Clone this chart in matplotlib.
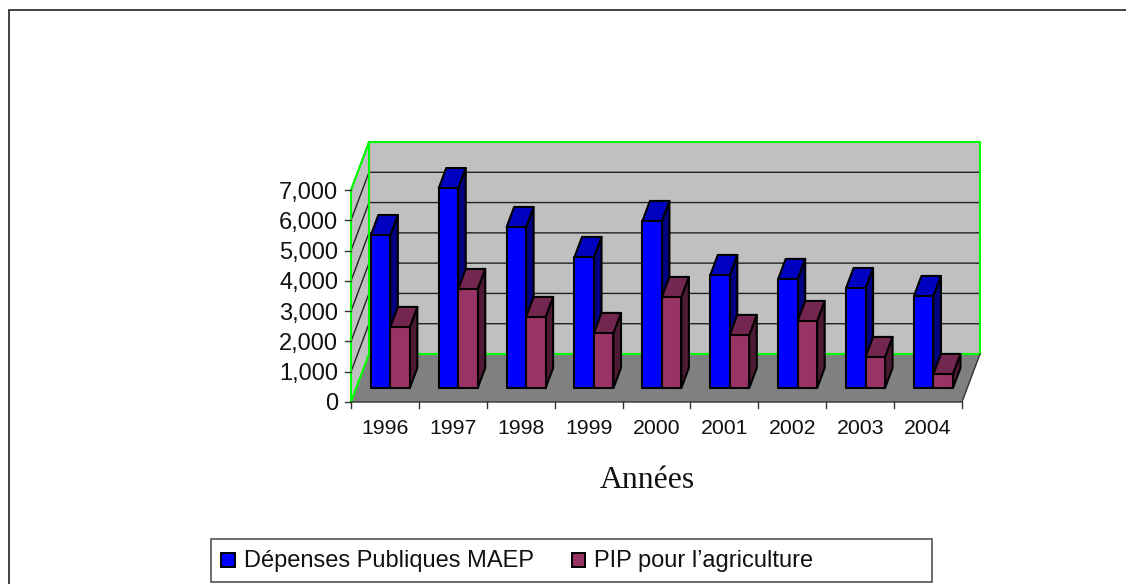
import matplotlib
matplotlib.use('Agg')
import matplotlib.pyplot as plt
from matplotlib.patches import Polygon, Rectangle

years = ['1996', '1997', '1998', '1999', '2000', '2001', '2002', '2003', '2004']
depenses = [5050, 6600, 5315, 4325, 5513, 3730, 3600, 3300, 3037]
pip_agri = [2014, 3268, 2344, 1816, 3004, 1750, 2212, 1023, 462]
y_ticks = [0, 1000, 2000, 3000, 4000, 5000, 6000, 7000]

W, H = 1126, 584
plt.rcParams['font.family'] = ['Liberation Sans', 'DejaVu Sans']

fig = plt.figure(figsize=(W / 100, H / 100), dpi=100)
# axes box = front plane of the 3D chart, in pixels
ax = fig.add_axes([351 / W, 1 - 402 / H, 611 / W, 212 / H])
ax.set_xlim(0, len(years))
ax.set_ylim(0, 7000)
ax.axis('off')

# shear for the fake 3D depth, depth goes 0 (front) to 1 (back)
DX = 18 / (611 / len(years))
DY = 48 / (212 / 7000)


def pt(x, y, d):
    return (x + DX * d, y + DY * d)


def poly(points, **kw):
    kw.setdefault('clip_on', False)
    ax.add_patch(Polygon(points, closed=True, **kw))


n = len(years)
top = 7000
green = '#00ff00'

# walls and floor
poly([pt(0, 0, 1), pt(n, 0, 1), pt(n, top, 1), pt(0, top, 1)], fc='#c0c0c0', ec='none', zorder=1)
poly([pt(0, 0, 0), pt(0, 0, 1), pt(0, top, 1), pt(0, top, 0)], fc='#c0c0c0', ec='none', zorder=1)
poly([pt(0, 0, 0), pt(n, 0, 0), pt(n, 0, 1), pt(0, 0, 1)], fc='#808080', ec='none', zorder=1)

for v in y_ticks[1:]:
    xs, ys = zip(pt(0, v, 0), pt(0, v, 1), pt(n, v, 1))
    ax.plot(xs, ys, color='#222222', lw=1.0, clip_on=False, zorder=2)

# green outline of the walls
xs, ys = zip(pt(0, 0, 0), pt(0, top, 0), pt(0, top, 1), pt(n, top, 1), pt(n, 0, 1), pt(0, 0, 1), pt(0, 0, 0))
ax.plot(xs, ys, color=green, lw=1.5, clip_on=False, zorder=3)
xs, ys = zip(pt(0, 0, 1), pt(0, top, 1))
ax.plot(xs, ys, color=green, lw=1.5, clip_on=False, zorder=3)

# floor front and right edges
xs, ys = zip(pt(0, 0, 0), pt(n, 0, 0), pt(n, 0, 1))
ax.plot(xs, ys, color='#333333', lw=1.0, clip_on=False, zorder=3)

# ticks
for i in range(n + 1):
    ax.plot([i, i], [0, -190], color='#333333', lw=1.0, clip_on=False, zorder=3)
for v in y_ticks:
    ax.plot([0, -0.09], [v, v], color='#333333', lw=1.0, clip_on=False, zorder=3)
    ax.text(-0.19, v, f'{v:,}', ha='right', va='center_baseline', fontsize=17, color='#111111')
for i, y in enumerate(years):
    ax.text(i + 0.5, -825, y, ha='center', va='center_baseline', fontsize=15.3, color='#111111')

ax.text(4.36, -2476, 'Années', ha='center', va='center_baseline', fontsize=22.9,
        family=['Liberation Serif', 'DejaVu Serif'], color='#111111')

# bars
BW = 0.287
GAP = 0.215
D0, D1 = 0.29, 0.71


def bar3d(x, w, v, front, side, upper, z):
    poly([pt(x + w, 0, D0), pt(x + w, 0, D1), pt(x + w, v, D1), pt(x + w, v, D0)],
         fc=side, ec='black', lw=1.5, joinstyle='round', zorder=z)
    poly([pt(x, v, D0), pt(x + w, v, D0), pt(x + w, v, D1), pt(x, v, D1)],
         fc=upper, ec='black', lw=1.5, joinstyle='round', zorder=z)
    poly([pt(x, 0, D0), pt(x + w, 0, D0), pt(x + w, v, D0), pt(x, v, D0)],
         fc=front, ec='black', lw=1.5, joinstyle='round', zorder=z + 0.1)


for i in range(n):
    z = 10 + i * 2
    bar3d(i + GAP, BW, depenses[i], '#0000ff', '#000080', '#0000c0', z)
    bar3d(i + GAP + BW, BW, pip_agri[i], '#993366', '#4d1a33', '#732650', z + 1)

# page frame (only top and left are visible) and legend box, in figure pixels
lg = fig.add_axes([0, 0, 1, 1], zorder=5)
lg.set_xlim(0, W)
lg.set_ylim(H, 0)
lg.axis('off')
lg.plot([9, 9, W], [H, 10, 10], color='#222222', lw=1.2, solid_joinstyle='miter')
lg.add_patch(Rectangle((210.5, 538.5), 721, 43.5, fc='white', ec='#444444', lw=1.1))
lg.add_patch(Rectangle((221, 552.5), 14, 14, fc='#0000ff', ec='black', lw=1.4))
lg.text(243.5, 567, 'Dépenses Publiques MAEP', ha='left', va='baseline', fontsize=17, color='#111111')
lg.add_patch(Rectangle((571.5, 552.5), 13, 14, fc='#993366', ec='black', lw=1.4))
lg.text(594, 567, 'PIP pour l’agriculture', ha='left', va='baseline', fontsize=17, color='#111111')

fig.savefig('out.png', dpi=100)
